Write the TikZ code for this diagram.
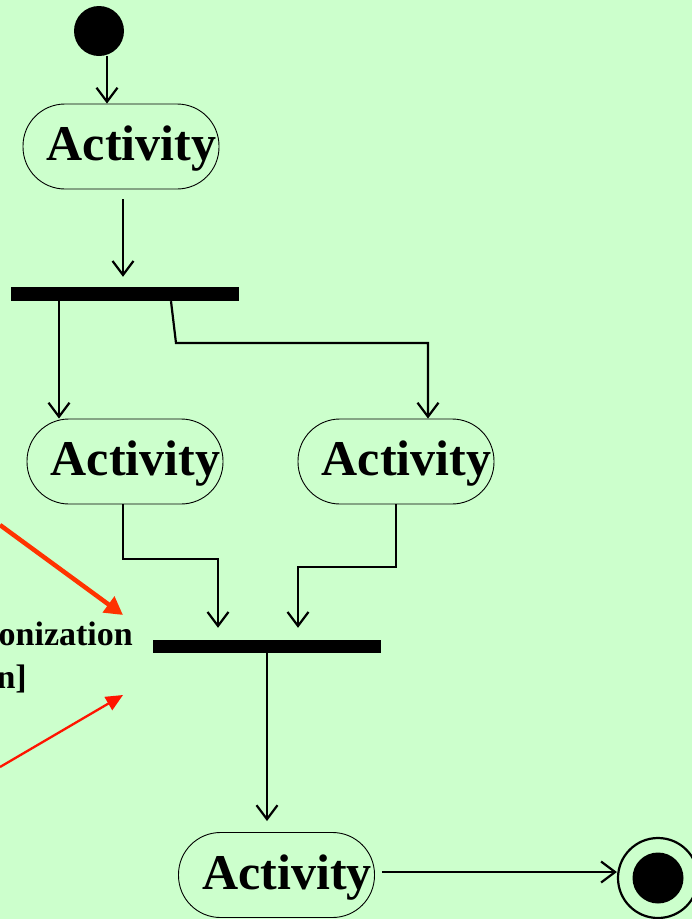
\documentclass[tikz,border=0pt]{standalone}
\usepackage{fontspec}
\setmainfont{Liberation Serif}
\usetikzlibrary{arrows.meta}
\definecolor{bg}{RGB}{204,255,204}
\definecolor{redA}{RGB}{255,51,0}
\definecolor{redB}{RGB}{255,20,0}
\tikzset{
  act/.style={draw, line width=0.9pt, rounded corners=42pt, minimum width=196pt, minimum height=85pt, inner sep=0pt,
    font=\fontsize{50}{60}\selectfont\bfseries, text height=39pt, text depth=11pt},
  bar/.style={fill=black, draw=none, minimum width=228pt, minimum height=14pt, inner sep=0pt},
  flow/.style={line width=2.2pt, -{Straight Barb[length=14pt,width=21pt]}},
  redthick/.style={draw=redA, line width=4.5pt, -{Triangle[length=18pt,width=19pt]}},
  redthin/.style={draw=redB, line width=2.3pt, -{Triangle[length=17pt,width=15pt]}},
  note/.style={font=\fontsize{34}{40}\selectfont\bfseries, inner sep=0pt},
}
\begin{document}
\begin{tikzpicture}[x=1pt,y=-1pt]
\fill[bg] (0,0) rectangle (692,919);
\useasboundingbox (0,0) rectangle (692,919);

% start
\node[circle, fill=black, minimum size=50pt, inner sep=0pt] (s) at (99,31) {};
% activities
\node[act] (a1) at (121,146.5) {\hspace*{21pt}Activity};
\node[bar] (b1) at (125,294) {};
\node[act] (a2) at (125,461.5) {\hspace*{21pt}Activity};
\node[act] (a3) at (396,461.5) {\hspace*{21pt}Activity};
\node[bar, minimum height=13pt] (j) at (267,646.5) {};
\node[act] (a4) at (276.5,875) {\hspace*{21pt}Activity};
% end
\node[circle, draw, line width=2.2pt, minimum size=80pt, inner sep=0pt] (e) at (658,878) {};
\node[circle, fill=black, minimum size=51pt, inner sep=0pt] (ei) at (e.center) {};

\coordinate (k1) at (176,343);
\coordinate (k2) at (218,559);
\coordinate (k3) at (298,567);

\draw[flow] ([xshift=8]s.south) -- ([xshift=-14]a1.north);
\draw[flow] ([shift={(2,10)}]a1.south) -- ([shift={(-2,-10)}]b1.north);
\draw[flow] ([xshift=-66]b1.south) -- ([xshift=-66]a2.north);
\draw[flow] ([xshift=46]b1.south) -- (k1) -| ([xshift=32]a3.north);
\draw[flow] ([xshift=-2]a2.south) |- (k2) -- ([shift={(-49,-12)}]j.north);
\draw[flow] (a3.south) |- (k3) -- ([shift={(31,-12)}]j.north);
\draw[flow] (j.south) -- ([shift={(-9.5,-11)}]a4.north);
\draw[flow] ([shift={(7,-3)}]a4.east) -- ([yshift=6]e.west);

% notes
\node[note, anchor=base east] (t1) at (133,645) {onization};
\node[note, anchor=base east] (t2) at (27,688) {n]};
\coordinate (r1s) at (0,525);
\coordinate (r1t) at (123,615);
\coordinate (r2s) at (0,767);
\coordinate (r2t) at (123,695);
\draw[redthick] (r1s) -- (r1t);
\draw[redthin] (r2s) -- (r2t);
\end{tikzpicture}
\end{document}
